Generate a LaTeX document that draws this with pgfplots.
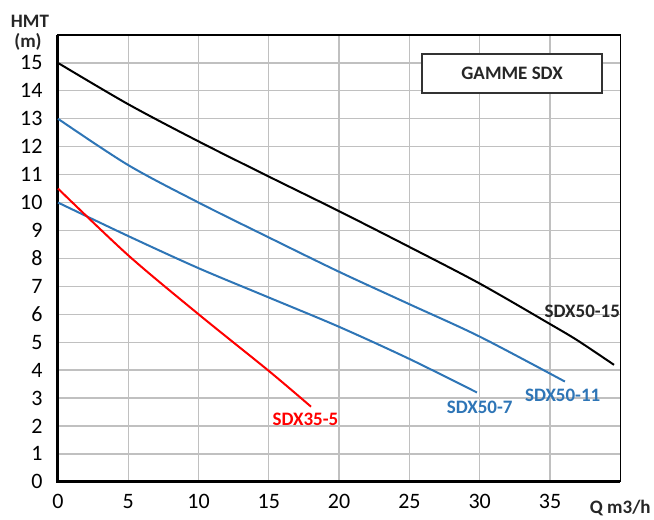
\documentclass[border=0pt]{standalone}
\usepackage{fontspec}
\setmainfont{Carlito}
\usepackage{pgfplots}
\pgfplotsset{compat=1.18}
\definecolor{sdxblue}{RGB}{46,117,182}
\definecolor{gridgray}{RGB}{192,192,192}
\begin{document}
\begin{tikzpicture}
\begin{axis}[
  scale only axis,
  width=562.5pt, height=447pt,
  xmin=0, xmax=40, ymin=0, ymax=16,
  xtick={0,5,...,35}, ytick={0,1,...,15},
  grid=major,
  major grid style={gridgray, line width=1.3pt},
  axis line style={black, line width=1.2pt},
  tick style={draw=none},
  /pgf/number format/assume math mode=true,
  ticklabel style={font=\fontsize{22}{26}\selectfont},
  yticklabel style={xshift=-12pt},
  xticklabel style={yshift=-9pt},
  clip=false,
]
\draw[black, line width=3pt] (axis cs:0,16) -- (axis cs:0,0) -- (axis cs:40,0);
\addplot[black, line width=2pt, smooth] coordinates {(0,15) (5,13.52) (10,12.19) (15,10.93) (20,9.69) (25,8.41) (30,7.1) (35,5.65) (37,5.05) (39.55,4.19)};
\addplot[sdxblue, line width=2pt, smooth] coordinates {(0,13) (5,11.34) (10,10.0) (15,8.75) (20,7.52) (25,6.36) (30,5.2) (36.06,3.59)};
\addplot[sdxblue, line width=2pt, smooth] coordinates {(0,10) (5,8.8) (10,7.65) (15,6.6) (20,5.55) (25,4.4) (29.8,3.2)};
\addplot[red, line width=2pt, smooth] coordinates {(0,10.5) (5,8.11) (10,6.0) (15,3.97) (18.0,2.69)};
\node[font=\fontsize{19}{22}\selectfont\bfseries, text=black!85] at (axis cs:37.3,6.12) {SDX50-15};
\node[font=\fontsize{19}{22}\selectfont\bfseries, text=sdxblue] at (axis cs:35.9,3.11) {SDX50-11};
\node[font=\fontsize{19}{22}\selectfont\bfseries, text=sdxblue] at (axis cs:30,2.68) {SDX50-7};
\node[font=\fontsize{19}{22}\selectfont\bfseries, text=red] at (axis cs:17.6,2.25) {SDX35-5};
\draw[draw=black!80, fill=white, line width=1.2pt] (axis cs:25.9,15.32) rectangle (axis cs:38.7,13.92);
\node[font=\fontsize{19}{22}\selectfont\bfseries, text=black!85] at (axis cs:32.3,14.62) {GAMME SDX};
\end{axis}
\node[font=\fontsize{19}{22}\selectfont\bfseries, text=black!85] at ([shift={(-28pt,461pt)}]current axis.south west) {HMT};
\node[font=\fontsize{19}{22}\selectfont\bfseries, text=black!85] at ([shift={(-30pt,440pt)}]current axis.south west) {(m)};
\node[font=\fontsize{19}{22}\selectfont\bfseries, text=black!85] at ([shift={(0pt,-26pt)}]current axis.south east) {Q m3/h};
\path ([shift={(-58pt,-35pt)}]current axis.south west) rectangle ([shift={(33pt,35pt)}]current axis.north east);
\end{tikzpicture}
\end{document}
